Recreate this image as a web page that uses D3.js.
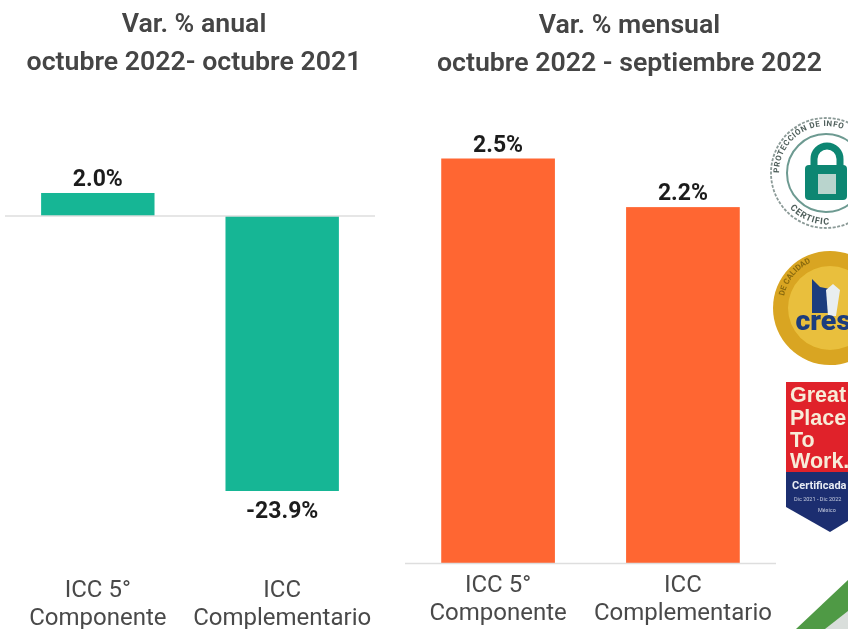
<!DOCTYPE html>
<html><head><meta charset="utf-8">
<script src="https://cdn.jsdelivr.net/npm/d3@7"></script>
<style>html,body{margin:0;background:#fff}svg{display:block;font-family:Roboto,sans-serif}</style>
</head><body><div id="c"></div>
<script>
const categories = [["ICC 5°","Componente"],["ICC","Complementario"]];
const annualValues = [2.0,-23.9];
const monthlyValues = [2.5,2.2];
const annualTitle = ["Var. % anual","octubre 2022- octubre 2021"];
const monthlyTitle = ["Var. % mensual","octubre 2022 - septiembre 2022"];

const svg = d3.select("#c").append("svg").attr("width",848).attr("height",629).attr("viewBox","0 0 848 629");
const defs = svg.append("defs");
defs.append("filter").attr("id","soft").append("feGaussianBlur").attr("stdDeviation",0.4);
defs.append("filter").attr("id","softer").append("feGaussianBlur").attr("stdDeviation",0.6);
const root = svg.append("g").attr("filter","url(#soft)");

function panel(o){
  const g = root.append("g");
  const x = d3.scaleBand().domain(categories.map(c=>c.join(" "))).range(o.xr).paddingInner(0.385).paddingOuter(0.196);
  const y = d3.scaleLinear().domain(o.dom).range(o.yr);
  o.title.forEach((t,i)=>g.append("text").attr("x",o.tx).attr("y",o.ty[i]).attr("text-anchor","middle")
    .attr("font-size",26.7).attr("font-weight",600).attr("fill","#444").text(t));
  const data = categories.map((c,i)=>({c,k:c.join(" "),v:o.vals[i]}));
  g.selectAll("rect").data(data).join("rect")
    .attr("x",d=>x(d.k)).attr("width",x.bandwidth())
    .attr("y",d=>y(Math.max(0,d.v))).attr("height",d=>Math.abs(y(d.v)-y(0)))
    .attr("fill",o.color);
  g.append("line").attr("x1",o.xr[0]).attr("x2",o.xr[1]).attr("y1",y(0)).attr("y2",y(0)).attr("stroke","#dedede").attr("stroke-width",1.5);
  g.selectAll("text.v").data(data).join("text").attr("class","v")
    .attr("x",d=>x(d.k)+x.bandwidth()/2)
    .attr("y",d=>d.v>=0?y(d.v)-7:y(d.v)+27)
    .attr("text-anchor","middle").attr("font-size",23).attr("font-weight",700).attr("fill","#1f1f1f")
    .text(d=>d.v.toFixed(1)+"%");
  data.forEach(d=>d.c.forEach((l,i)=>g.append("text")
    .attr("x",x(d.k)+x.bandwidth()/2).attr("y",o.ly[i]).attr("text-anchor","middle")
    .attr("font-size",24).attr("font-weight",450).attr("fill","#4a4a4a").text(l)));
}
panel({xr:[5,375],yr:[216,491],dom:[0,-23.9],vals:annualValues,color:"#12b695",title:annualTitle,tx:194,ty:[32,70],ly:[597,624.5]});
panel({xr:[405,776],yr:[563.5,158.5],dom:[0,2.5],vals:monthlyValues,color:"#ff6633",title:monthlyTitle,tx:629.5,ty:[33,71],ly:[592,620]});

// decorative certification badges
const b = svg.append("g").attr("filter","url(#softer)");
// privacy seal
const g1 = b.append("g");
g1.append("circle").attr("cx",826).attr("cy",173).attr("r",55).attr("fill","none").attr("stroke","#8b9a97").attr("stroke-width",1.8).attr("stroke-dasharray","3 1.5");
g1.append("circle").attr("cx",826).attr("cy",173).attr("r",39).attr("fill","#fff").attr("stroke","#6d9a91").attr("stroke-width",2);
g1.append("path").attr("d","M814 170v-11a13 13 0 0 1 26 0v11").attr("fill","none").attr("stroke","#0f8672").attr("stroke-width",7);
g1.append("rect").attr("x",805).attr("y",165).attr("width",42).attr("height",35).attr("rx",4).attr("fill","#0f8672");
g1.append("rect").attr("x",818).attr("y",174).attr("width",18).attr("height",20).attr("fill","#b9d4cd");
defs.append("path").attr("id","arcTop").attr("d","M779 173a47 47 0 0 1 94 0");
defs.append("path").attr("id","arcBot").attr("d","M790 208a50 50 0 0 0 58 12");
g1.append("text").attr("font-size",8).attr("font-weight",700).attr("fill","#4f5f5b").attr("letter-spacing",0.6)
  .append("textPath").attr("href","#arcTop").text("PROTECCIÓN DE INFO");
g1.append("text").attr("font-size",9).attr("font-weight",700).attr("fill","#4f5f5b").attr("letter-spacing",0.8)
  .append("textPath").attr("href","#arcBot").text("CERTIFIC");
// cresca seal
const g2 = b.append("g");
g2.append("circle").attr("cx",830).attr("cy",308).attr("r",57).attr("fill","#d9a520");
g2.append("circle").attr("cx",830).attr("cy",308).attr("r",42).attr("fill","#e9bf3c");
g2.append("path").attr("d","M812 279l8 8 10 2 2 24h-20z").attr("fill","#1d3c7e");
g2.append("path").attr("d","M826 290l7-6 7 6-4 26h-8z").attr("fill","#e9eef0");
g2.append("text").attr("x",795.5).attr("y",330).attr("font-size",28.5).attr("font-weight",900).attr("fill","#1d3c7e").text("cres");
defs.append("path").attr("id","arcG").attr("d","M784 296a47 47 0 0 1 64 -34");
g2.append("text").attr("font-size",8).attr("font-weight",700).attr("fill","#8a6a10")
  .append("textPath").attr("href","#arcG").text("DE CALIDAD");
// GPTW badge
const g3 = b.append("g");
g3.append("path").attr("d","M786 382H848V472H786Z").attr("fill","#e0242b");
g3.append("path").attr("d","M786 472H848V521L830 532L786 507Z").attr("fill","#1d2f6f");
["Great","Place","To","Work."].forEach((t,i)=>g3.append("text").attr("x",790).attr("y",[402,425,447,468][i])
  .attr("font-size",21.5).attr("font-weight",700).attr("fill","#f7ecd8").attr("font-family","Liberation Sans, sans-serif").text(t));
g3.append("text").attr("x",792).attr("y",489).attr("font-size",11).attr("font-weight",700).attr("fill","#e8ebf3").text("Certificada");
g3.append("text").attr("x",794).attr("y",501).attr("font-size",5.5).attr("fill","#c6cce0").text("Dic 2021 - Dic 2022");
g3.append("text").attr("x",818).attr("y",512).attr("font-size",5.5).attr("fill","#c6cce0").text("México");
// green corner
const g4 = b.append("g");
g4.append("path").attr("d","M796 629L848 580V629Z").attr("fill","#4f9a45");
g4.append("path").attr("d","M825 629L848 611V629Z").attr("fill","#d9dedb");
</script></body></html>
